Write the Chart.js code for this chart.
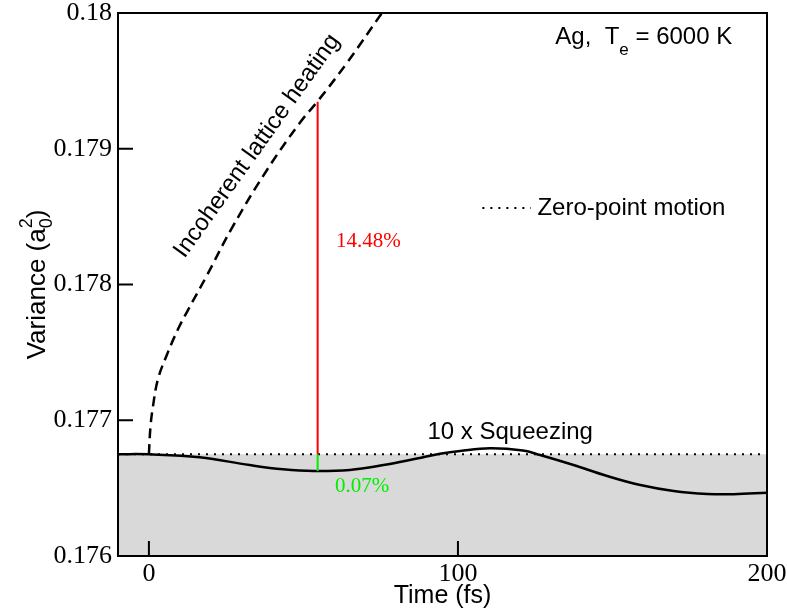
<!DOCTYPE html>
<html><head><meta charset="utf-8">
<script src="https://cdn.jsdelivr.net/npm/chart.js@4.4.1/dist/chart.umd.min.js"></script>
<style>html,body{margin:0;padding:0;background:#fff;}canvas{display:block;}</style>
</head><body>
<canvas id="c" width="787" height="614"></canvas>
<script>
// ---- data ----
const heatingTime = [0, 0.5, 1.3, 2.9, 5.6, 9.4, 12.6, 18.6, 27.2, 38.1, 48.8, 54.6, 64, 76];
const heatingVar  = [0.17675, 0.17695, 0.17710, 0.17730, 0.17747, 0.17767, 0.17781, 0.17806, 0.17843, 0.17884, 0.17919, 0.17935, 0.17963, 0.18002];
const squeezeTime = [-10, 0, 16.4, 32.6, 43.4, 53.2, 65, 75.9, 86.7, 94.2, 100.7, 110.4, 121, 126.6, 137.4, 148.3, 159, 169.8, 180.7, 189.2, 200];
const squeezeVar  = [0.17675, 0.176749, 0.176727, 0.176670, 0.176639, 0.176626, 0.176634, 0.176670, 0.176718, 0.176753, 0.176774, 0.176793, 0.176777, 0.176744, 0.176670, 0.176589, 0.176523, 0.176479, 0.176457, 0.176455, 0.176466];
const zeroPointTime = [-10, 200];
const zeroPointVar  = [0.17675, 0.17675];
const markerTime = [54.6, 54.6];
const heatingMarkerVar = [0.17675, 0.179347];
const squeezeMarkerVar = [0.176626, 0.17675];
const xTicks = [0, 100, 200];
const yTicks = [0.176, 0.177, 0.178, 0.179, 0.18];
const yTickLabels = ['0.176', '0.177', '0.178', '0.179', '0.18'];
const heatingPct = '14.48%';
const squeezePct = '0.07%';

const pts = (xs, ys) => xs.map((v, i) => ({x: v, y: ys[i]}));
const SANS = '"Liberation Sans", Arial, Helvetica, sans-serif';
const SERIF = '"Liberation Serif", "Times New Roman", serif';

function drawParts(ctx, parts, x, y) {
  let cx = x, maxW = 0, startX = x;
  parts.forEach(p => {
    ctx.font = p.size + 'px ' + SANS;
    const w = ctx.measureText(p.t).width;
    if (p.stack) { ctx.fillText(p.t, startX, y + p.dy); maxW = Math.max(maxW, w); cx = startX + maxW; return; }
    startX = cx;
    ctx.fillText(p.t, cx, y + (p.dy || 0));
    maxW = w; cx += w;
  });
  return cx - x;
}
function measureParts(ctx, parts) {
  let cx = 0, maxW = 0, startX = 0;
  parts.forEach(p => {
    ctx.font = p.size + 'px ' + SANS;
    const w = ctx.measureText(p.t).width;
    if (p.stack) { maxW = Math.max(maxW, w); cx = startX + maxW; return; }
    startX = cx; maxW = w; cx += w;
  });
  return cx;
}

const annot = {
  id: 'annot',
  afterDatasetsDraw(chart) {
    const {ctx, chartArea: a, scales: {x, y}} = chart;
    const px = v => x.getPixelForValue(v), py = v => y.getPixelForValue(v);
    ctx.save();
    // frame + inward ticks
    ctx.strokeStyle = '#000'; ctx.lineWidth = 2;
    ctx.strokeRect(a.left, a.top, a.right - a.left, a.bottom - a.top);
    ctx.beginPath();
    xTicks.forEach(v => { const p = px(v); ctx.moveTo(p, a.bottom); ctx.lineTo(p, a.bottom - 15); });
    yTicks.forEach(v => { const p = py(v); ctx.moveTo(a.left, p); ctx.lineTo(a.left + 15, p); });
    ctx.stroke();

    // legend sample (dotted) + text
    ctx.setLineDash([2, 6]); ctx.lineWidth = 2;
    ctx.beginPath(); ctx.moveTo(px(107.9), py(0.178564)); ctx.lineTo(px(123.6), py(0.178564)); ctx.stroke();
    ctx.setLineDash([]);
    ctx.fillStyle = '#000';
    ctx.textBaseline = 'alphabetic';
    ctx.textAlign = 'left';
    ctx.font = '24px ' + SANS;
    ctx.fillText('Zero-point motion', px(125.7), py(0.178512));

    // squeezing label
    ctx.textAlign = 'center';
    ctx.fillText('10 x Squeezing', px(116.9), py(0.17686));

    // Ag, Te = 6000 K
    ctx.textAlign = 'left';
    drawParts(ctx, [
      {t: 'Ag,  T', size: 24},
      {t: 'e', size: 17, dy: 11},
      {t: ' = 6000 K', size: 24}
    ], px(131.5), py(0.179772));

    // Incoherent lattice heating (rotated)
    ctx.save();
    ctx.translate(px(35.0), py(0.17902));
    ctx.rotate(-54.5 * Math.PI / 180);
    ctx.textAlign = 'center'; ctx.textBaseline = 'middle';
    ctx.font = '24px ' + SANS;
    ctx.fillText('Incoherent lattice heating', 0, 0);
    ctx.restore();

    // percentages
    ctx.textAlign = 'left'; ctx.textBaseline = 'middle';
    ctx.font = '21px ' + SERIF;
    ctx.fillStyle = '#ff0000';
    ctx.fillText(heatingPct, px(60.5), py(0.178315));
    ctx.fillStyle = '#00ee00';
    ctx.fillText(squeezePct, px(60.2), py(0.176515));

    // axis titles
    ctx.fillStyle = '#000';
    ctx.textBaseline = 'alphabetic';
    ctx.textAlign = 'center';
    ctx.font = '25px ' + SANS;
    ctx.fillText('Time (fs)', (a.left + a.right) / 2, 603);

    const yParts = [
      {t: 'Variance (a', size: 26},
      {t: '0', size: 18, dy: 7},
      {t: '2', size: 18, dy: -13, stack: true},
      {t: ')', size: 26}
    ];
    ctx.save();
    const w = measureParts(ctx, yParts);
    ctx.translate(45, (a.top + a.bottom) / 2);
    ctx.rotate(-Math.PI / 2);
    ctx.textAlign = 'left';
    drawParts(ctx, yParts, -w / 2, 0);
    ctx.restore();

    ctx.restore();
  }
};

new Chart(document.getElementById('c'), {
  type: 'line',
  data: {
    datasets: [
      {label: 'heating', data: pts(heatingTime, heatingVar), borderColor: '#000', borderWidth: 2.5, borderDash: [10, 6],
       pointRadius: 0, tension: 0.4, fill: false, clip: 0},
      {label: 'heating marker', data: pts(markerTime, heatingMarkerVar), borderColor: '#ff0000', borderWidth: 2, pointRadius: 0, fill: false},
      {label: 'squeeze marker', data: pts(markerTime, squeezeMarkerVar), borderColor: '#00ee00', borderWidth: 2, pointRadius: 0, fill: false},
      {label: 'squeezing', data: pts(squeezeTime, squeezeVar), borderColor: '#000', borderWidth: 2.5,
       pointRadius: 0, tension: 0.4, fill: false},
      {label: 'Zero-point motion', data: pts(zeroPointTime, zeroPointVar), borderColor: '#000', borderWidth: 2, borderDash: [2, 6],
       pointRadius: 0, fill: 'start', backgroundColor: '#d9d9d9'}
    ]
  },
  options: {
    responsive: false, animation: false, devicePixelRatio: 1, events: [],
    layout: {padding: {top: 13, right: 20, left: 0, bottom: 0}, autoPadding: false},
    plugins: {legend: {display: false}, tooltip: {enabled: false}, title: {display: false}},
    scales: {
      x: {
        type: 'linear', min: -10, max: 200,
        afterBuildTicks: s => { s.ticks = xTicks.map(v => ({value: v})); },
        afterFit: s => { s.height = 58; s.paddingLeft = 0; s.paddingRight = 0; },
        grid: {display: false, drawTicks: false},
        border: {display: false},
        ticks: {color: '#000', font: {family: SERIF, size: 26}, padding: 3, maxRotation: 0,
                callback: v => String(v)}
      },
      y: {
        type: 'linear', min: 0.176, max: 0.18,
        afterBuildTicks: s => { s.ticks = yTicks.map(v => ({value: v})); },
        afterFit: s => { s.width = 118; s.paddingTop = 0; s.paddingBottom = 0; },
        grid: {display: false, drawTicks: false},
        border: {display: false},
        ticks: {color: '#000', font: {family: SERIF, size: 26}, padding: 6,
                callback: v => { const i = yTicks.findIndex(t => Math.abs(t - v) < 1e-9); return i >= 0 ? yTickLabels[i] : ''; }}
      }
    }
  },
  plugins: [annot]
});
</script>
</body></html>
